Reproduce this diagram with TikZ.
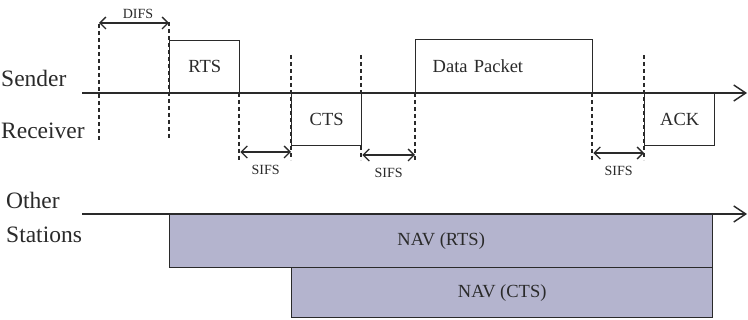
\documentclass[tikz,border=0pt]{standalone}
\usepackage{fontspec}
\setmainfont{Liberation Serif}
\usetikzlibrary{positioning,arrows.meta}
\definecolor{linea}{HTML}{2A2A2A}
\definecolor{nav}{RGB}{180,180,206}

\begin{document}
\begin{tikzpicture}[
  x=1pt, y=-1pt, color=linea,
  rotulo/.style={anchor=west, inner sep=0pt, font=\fontsize{23.5}{26}\selectfont},
  trama/.style={draw, line width=1.4pt, fill=white, inner sep=0pt, font=\fontsize{18.5}{21}\selectfont},
  eje/.style={-{Straight Barb[length=12pt,width=16pt]}, line width=1.4pt},
  guia/.style={line width=1.3pt, dash pattern=on 4pt off 3pt},
  tramo/.style={{Straight Barb[length=6pt,width=12pt]}-{Straight Barb[length=6pt,width=12pt]}, line width=1.3pt},
  chico/.style={font=\fontsize{14}{16}\selectfont}
]
  \useasboundingbox (0,0) rectangle (748,320);

  % ejes de tiempo
  \coordinate (s0) at (82,93);
  \coordinate (s1) at (747,93);
  \coordinate (o0) at (82,214);
  \coordinate (o1) at (747,214);
  \draw[eje] (s0) -- (s1);
  \draw[eje] (o0) -- (o1);

  \node[rotulo] (sender) at (1,78) {Sender};
  \node[rotulo] (receiver) at (1,131) {Receiver};
  \node[rotulo] (other) at (6,200) {Other};
  \node[rotulo] (stations) at (6,235) {Stations};

  % lineas guia
  \coordinate (difs) at (99,140);
  \draw[guia] (difs) -- ++(0,-118);
  \draw[guia] (169,22) -- (169,140);
  \draw[guia] (239,93) -- ++(0,67);
  \draw[guia] (291,55) -- ++(0,105);
  \draw[guia] (361,55) -- ++(0,105);
  \draw[guia] (415,93) -- ++(0,67);
  \draw[guia] (592,93) -- ++(0,67);
  \draw[guia] (644,55) -- ++(0,105);

  % tramas
  \node[trama, anchor=south west, minimum width=70, minimum height=52] (rts) at (169,93) {RTS};
  \node[trama, anchor=north west, minimum width=70, minimum height=52] (cts) at (291,93) {CTS};
  \node[trama, anchor=south west, minimum height=53, text width=143, inner xsep=17pt, align=left] (data) at (415,93) {Data Packet};
  \node[trama, anchor=north west, minimum width=70, minimum height=52] (ack) at (644,93) {ACK};

  \node[trama, fill=nav, anchor=north west, minimum width=543, minimum height=53] (navrts) at (169,214) {NAV (RTS)};
  \node[trama, fill=nav, anchor=north west, minimum width=421, minimum height=50] (navcts) at (291,267) {NAV (CTS)};

  % intervalos
  \draw[tramo] (difs |- 0,23) -- (rts.south west |- 0,23)
        node[chico, midway, above=0pt, xshift=4pt] {DIFS};
  \draw[tramo] (rts.south east |- 0,152) -- (cts.north west |- 0,152)
        node[chico, midway, below=9pt] {SIFS};
  \draw[tramo] (cts.north east |- 0,155) -- (data.south west |- 0,155)
        node[chico, midway, below=9pt] {SIFS};
  \draw[tramo] (data.south east |- 0,153) -- (ack.north west |- 0,153)
        node[chico, midway, below=9pt] {SIFS};
\end{tikzpicture}
\end{document}
